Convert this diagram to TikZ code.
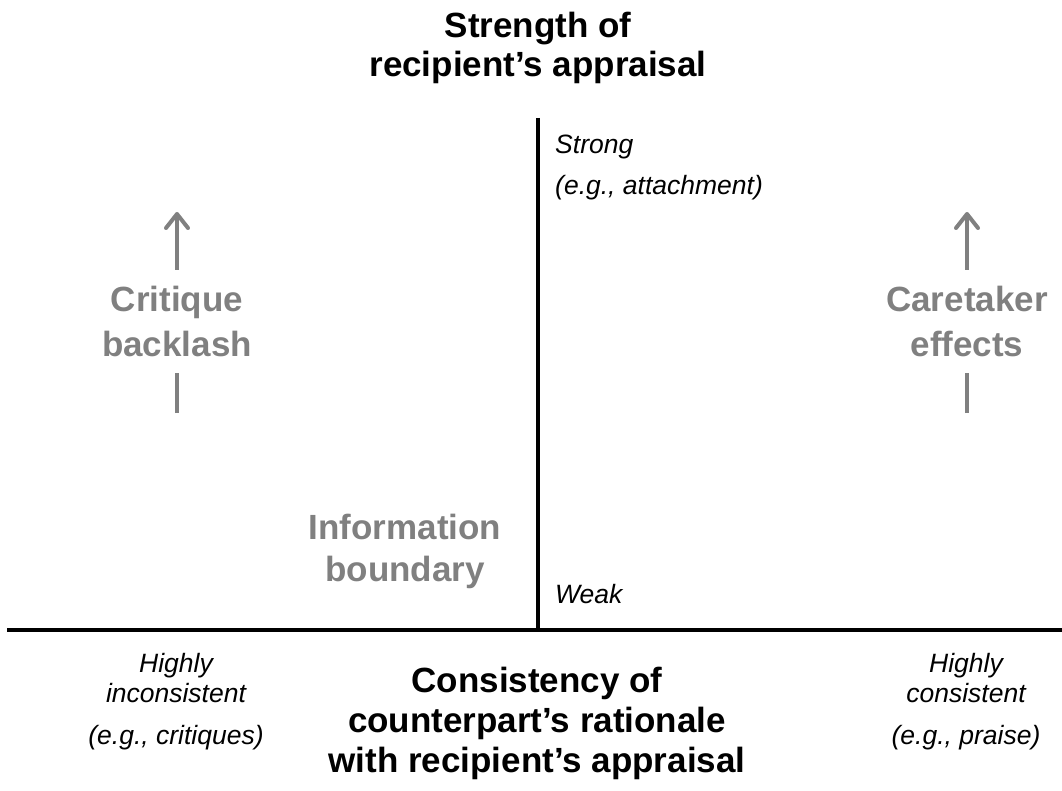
\documentclass[tikz,border=0pt]{standalone}
\usepackage{fontspec}
\setmainfont{Liberation Sans}
\usetikzlibrary{arrows.meta}
\definecolor{LabelGray}{HTML}{808080}

\begin{document}
\begin{tikzpicture}[x=1pt,y=-1pt]
  \tikzset{TitleStyle/.style = {
    font          = \fontsize{35}{39}\selectfont\bfseries,
    text          = black,
    align         = center,
    inner sep     = 0pt,
    anchor        = north
    }
  }
  \tikzset{EffectStyle/.style = {
    font          = \fontsize{35}{45}\selectfont\bfseries,
    text          = LabelGray,
    align         = center,
    inner sep     = 0pt,
    anchor        = north
    }
  }
  \tikzset{PoleStyle/.style = {
    font          = \fontsize{26.5}{30}\selectfont\itshape,
    text          = black,
    inner sep     = 0pt
    }
  }
  \tikzset{AxisStyle/.style = {
    draw          = black,
    line width    = 4.5pt
    }
  }
  \tikzset{ArrowStyle/.style = {
    draw          = LabelGray,
    line width    = 4pt
    }
  }

  \useasboundingbox (0,0) rectangle (1062,791);

  \coordinate (XL) at (7,630);
  \coordinate (XR) at (1062,630);
  \coordinate (YT) at (538,118);
  \coordinate (YB) at (538,630);
  \draw[AxisStyle, line width=3.3pt] (YT) -- (YB);
  \draw[AxisStyle] (XL) -- (XR);

  \node[TitleStyle](YTitle) at (538,12) {Strength of\\recipient’s appraisal};
  \node[TitleStyle, font=\fontsize{35}{40}\selectfont\bfseries](XTitle) at (537,667)
    {Consistency of\\counterpart’s rationale\\with recipient’s appraisal};

  \node[PoleStyle, anchor=north west, align=left](Strong) at (555,135)
    {Strong\\[11pt](e.g., attachment)};
  \node[PoleStyle, anchor=base west](Weak) at (555,603) {Weak};
  \node[PoleStyle, anchor=north, align=center](Low) at (176,653)
    {Highly\\inconsistent\\[12pt](e.g., critiques)};
  \node[PoleStyle, anchor=north, align=center](High) at (966,653)
    {Highly\\consistent\\[12pt](e.g., praise)};

  \node[EffectStyle](Backlash) at (177,286) {Critique\\backlash};
  \node[EffectStyle](Caretaker) at (967,286) {Caretaker\\effects};
  \node[EffectStyle, font=\fontsize{35}{42}\selectfont\bfseries](Boundary) at (405,514)
    {Information\\boundary};

  \coordinate (BacklashLow) at (177,413);
  \coordinate (BacklashTip) at (177,212);
  \coordinate (CaretakerLow) at (967,413);
  \coordinate (CaretakerTip) at (967,212);
  \draw[ArrowStyle, shorten >=16pt](BacklashLow) -- (Backlash.south);
  \draw[ArrowStyle, shorten <=16pt, -{Straight Barb[length=14pt,width=22pt,round]}](Backlash.north) -- (BacklashTip);
  \draw[ArrowStyle, shorten >=16pt](CaretakerLow) -- (Caretaker.south);
  \draw[ArrowStyle, shorten <=16pt, -{Straight Barb[length=14pt,width=22pt,round]}](Caretaker.north) -- (CaretakerTip);

\end{tikzpicture}
\end{document}
